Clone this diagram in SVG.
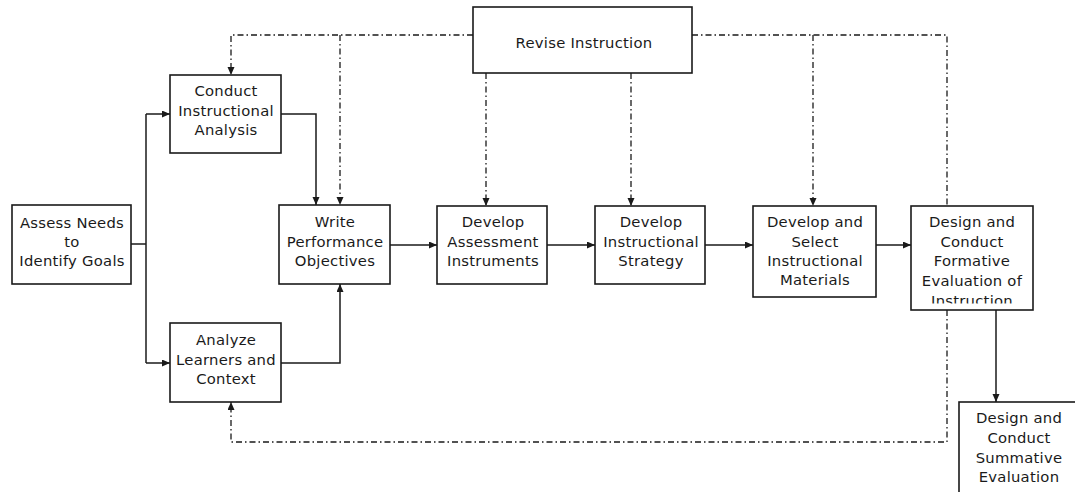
<svg xmlns="http://www.w3.org/2000/svg" width="1075" height="492" viewBox="0 0 1075 492">
<style>
.box{fill:#fff;stroke:#1a1a1a;stroke-width:1.6}
.t{font-family:"DejaVu Sans","Verdana",sans-serif;font-size:14.8px;letter-spacing:0.25px;fill:#1a1a1a;text-anchor:middle}
.solid{fill:none;stroke:#1a1a1a;stroke-width:1.5}
.dd{fill:none;stroke:#1a1a1a;stroke-width:1.3;stroke-dasharray:6 3 1.5 3}
</style>
<defs>
<marker id="ah" markerWidth="9" markerHeight="8" refX="8" refY="3.5" orient="auto" markerUnits="userSpaceOnUse">
<path d="M0,0 L8,3.5 L0,7 z" fill="#1a1a1a"/>
</marker>
<clipPath id="clipF"><rect x="911" y="206" width="122" height="97.5"/></clipPath>
</defs>
<rect width="1075" height="492" fill="#fff"/>

<g id="connectors">
<path class="solid" d="M131,244 H146"/>
<path class="solid" d="M146,114 V363"/>
<path class="solid" d="M146,114 H170" marker-end="url(#ah)"/>
<path class="solid" d="M146,363 H170" marker-end="url(#ah)"/>
<path class="solid" d="M281,114 H316 V205" marker-end="url(#ah)"/>
<path class="solid" d="M281,363 H340 V284" marker-end="url(#ah)"/>
<path class="solid" d="M390,245 H437" marker-end="url(#ah)"/>
<path class="solid" d="M547,245 H595" marker-end="url(#ah)"/>
<path class="solid" d="M705,245 H753" marker-end="url(#ah)"/>
<path class="solid" d="M876,245 H911" marker-end="url(#ah)"/>
<path class="solid" d="M996,310 V402" marker-end="url(#ah)"/>

<path class="dd" d="M473,35 H231 V75" marker-end="url(#ah)"/>
<path class="dd" d="M340,35 V205" marker-end="url(#ah)"/>
<path class="dd" d="M486,73 V206" marker-end="url(#ah)"/>
<path class="dd" d="M631,73 V206" marker-end="url(#ah)"/>
<path class="dd" d="M692,35 H947 V206"/>
<path class="dd" d="M813,35 V206" marker-end="url(#ah)"/>
<path class="dd" d="M947,310 V442 H231 V402" marker-end="url(#ah)"/>
</g>

<g id="revise">
<rect class="box" x="473" y="7" width="219" height="66"/>
<text class="t" x="584" y="48">Revise Instruction</text>
</g>

<g id="assess">
<rect class="box" x="12" y="205" width="119" height="79"/>
<text class="t" x="72" y="228">Assess Needs</text>
<text class="t" x="72" y="247">to</text>
<text class="t" x="72" y="266">Identify Goals</text>
</g>

<g id="conduct">
<rect class="box" x="170" y="75" width="111" height="78"/>
<text class="t" x="226" y="96">Conduct</text>
<text class="t" x="226" y="116">Instructional</text>
<text class="t" x="226" y="135">Analysis</text>
</g>

<g id="analyze">
<rect class="box" x="170" y="323" width="111" height="79"/>
<text class="t" x="226" y="345">Analyze</text>
<text class="t" x="226" y="364.5">Learners and</text>
<text class="t" x="226" y="384">Context</text>
</g>

<g id="write">
<rect class="box" x="279" y="205" width="111" height="79"/>
<text class="t" x="335" y="227">Write</text>
<text class="t" x="335" y="247">Performance</text>
<text class="t" x="335" y="266">Objectives</text>
</g>

<g id="assessment">
<rect class="box" x="437" y="206" width="110" height="78"/>
<text class="t" x="493" y="227">Develop</text>
<text class="t" x="493" y="246.5">Assessment</text>
<text class="t" x="493" y="266">Instruments</text>
</g>

<g id="strategy">
<rect class="box" x="595" y="206" width="110" height="78"/>
<text class="t" x="651" y="227">Develop</text>
<text class="t" x="651" y="246.5">Instructional</text>
<text class="t" x="651" y="266">Strategy</text>
</g>

<g id="materials">
<rect class="box" x="753" y="206" width="123" height="91"/>
<text class="t" x="815" y="227">Develop and</text>
<text class="t" x="815" y="246.5">Select</text>
<text class="t" x="815" y="266">Instructional</text>
<text class="t" x="815" y="285">Materials</text>
</g>

<g id="formative">
<rect class="box" x="911" y="206" width="122" height="104"/>
<g clip-path="url(#clipF)">
<text class="t" x="972" y="227">Design and</text>
<text class="t" x="972" y="246.5">Conduct</text>
<text class="t" x="972" y="266">Formative</text>
<text class="t" x="972" y="286">Evaluation of</text>
<text class="t" x="972" y="305.5">Instruction</text>
</g>
</g>

<g id="summative">
<rect class="box" x="959" y="402" width="130" height="100"/>
<text class="t" x="1019" y="423">Design and</text>
<text class="t" x="1019" y="443">Conduct</text>
<text class="t" x="1019" y="463">Summative</text>
<text class="t" x="1019" y="482">Evaluation</text>
</g>
</svg>
